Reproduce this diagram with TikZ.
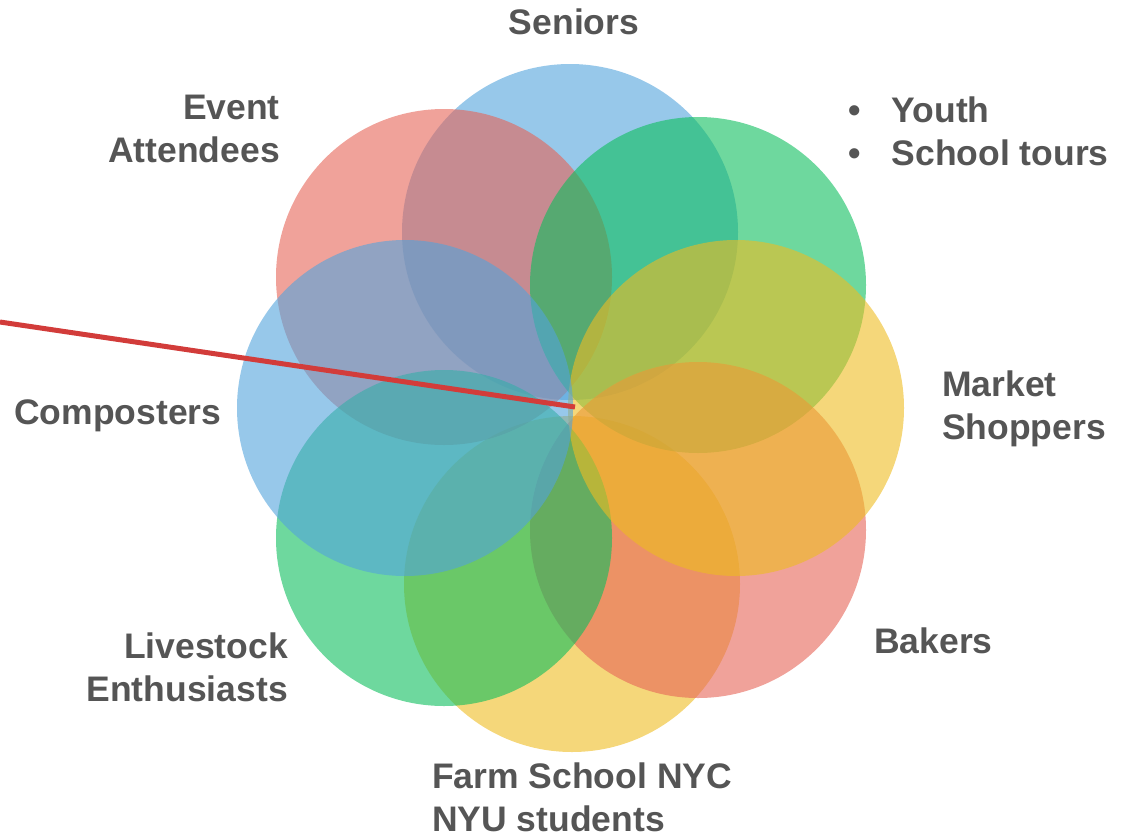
\documentclass[tikz,border=0pt]{standalone}
\usepackage{fontspec}
\setmainfont{Liberation Sans}
\definecolor{petalblue}{RGB}{82,163,220}
\definecolor{petalred}{RGB}{230,100,87}
\definecolor{petalgreen}{RGB}{13,190,93}
\definecolor{petalyellow}{RGB}{238,188,33}
\definecolor{taggrey}{RGB}{85,85,85}
\definecolor{pointerred}{RGB}{210,60,58}
\tikzset{
  petal/.style={fill=#1,fill opacity=0.6},
  tag/.style={text=taggrey,inner sep=0pt,font=\fontsize{35.5}{43}\selectfont\bfseries}
}
\begin{document}
\begin{tikzpicture}[x=1pt,y=-1pt]
	\useasboundingbox (0,0) rectangle (1122,839);

	% Draw petals (order sets which one lies on top)
	\fill[petal=petalblue] (570,232) circle[radius=168pt];
	\fill[petal=petalyellow] (572,584) circle[radius=168pt];
	\fill[petal=petalred] (444,277) circle[radius=168pt];
	\fill[petal=petalgreen] (698,285) circle[radius=168pt];
	\fill[petal=petalred] (698,530) circle[radius=168pt];
	\fill[petal=petalgreen] (444,538) circle[radius=168pt];
	\fill[petal=petalyellow] (736,408) circle[radius=168pt];
	\fill[petal=petalblue] (405,408) circle[radius=168pt];

	% Pointer into the hub
	\coordinate (hub) at (575,407);
	\coordinate (tail) at (0,322);
	\draw[pointerred,line width=5pt] (tail) -- (hub);

	% Label the petals
	\node[tag] (seniors) at (574,22) {Seniors};
	\node[tag,anchor=east,align=right] (events) at (280,129) {Event\\Attendees};
	\node[tag,anchor=west,align=left] (youth) at (848,131) {\textbullet\hspace{31pt}Youth\\\textbullet\hspace{31pt}School tours};
	\node[tag,anchor=west,align=left] (market) at (942,409) {Market\\Shoppers};
	\node[tag,anchor=west] (compost) at (14,416) {Composters};
	\node[tag,anchor=west] (bakers) at (874,641) {Bakers};
	\node[tag,anchor=east,align=right] (livestock) at (288,667) {Livestock\\Enthusiasts};
	\node[tag,anchor=west,align=left] (farm) at (432,797) {Farm School NYC\\NYU students};
\end{tikzpicture}
\end{document}
